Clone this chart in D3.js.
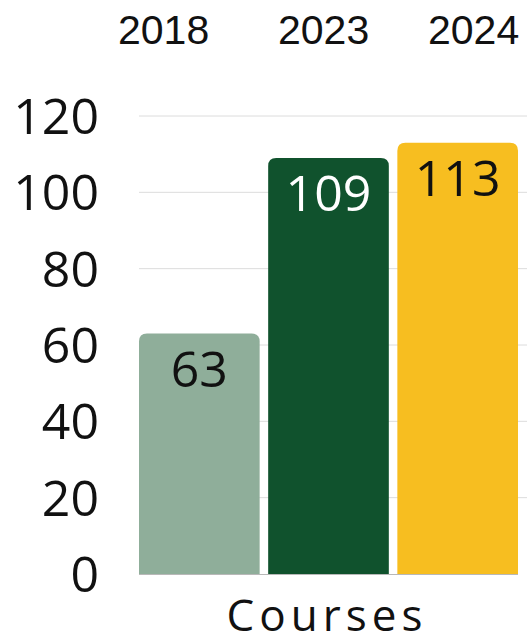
<!DOCTYPE html>
<html>
<head>
<meta charset="utf-8">
<script src="https://cdn.jsdelivr.net/npm/d3@7"></script>
<style>
  body { margin: 0; background: #fff; }
  svg { display: block; font-family: "Open Sans", sans-serif; }
</style>
</head>
<body>
<svg id="chart" width="529" height="644"></svg>
<script>
const YEARS = ["2018", "2023", "2024"];
const VALUES = [63, 109, 113];
const COLORS = ["#8fae9a", "#10522d", "#f7be20"];
const LABEL_COLORS = ["#111", "#fff", "#111"];
const Y_TICKS = [0, 20, 40, 60, 80, 100, 120];
const CATEGORY = "Courses";

const PLOT = { left: 139, right: 518, gridRight: 527, top: 116, bottom: 574 };
const RADIUS = 8;

const svg = d3.select("#chart");

const y = d3.scaleLinear().domain([0, 120]).range([PLOT.bottom, PLOT.top]);
const x = d3.scaleBand().domain(YEARS).range([PLOT.left, PLOT.right]).paddingInner(0.066);

// gridlines
svg.append("g")
  .selectAll("line")
  .data(Y_TICKS.filter((d) => d > 0))
  .join("line")
  .attr("x1", PLOT.left)
  .attr("x2", PLOT.gridRight)
  .attr("y1", (d) => y(d))
  .attr("y2", (d) => y(d))
  .attr("stroke", "#dcdcdc")
  .attr("stroke-width", 1);

// y tick labels
svg.append("g")
  .selectAll("text")
  .data(Y_TICKS)
  .join("text")
  .attr("x", 99)
  .attr("y", (d) => y(d))
  .attr("dy", "0.36em")
  .attr("text-anchor", "end")
  .style("font-size", "50px")
  .style("fill", "#111")
  .text((d) => d);

// bars with rounded tops
const barPath = (x0, y0, w, h, r) =>
  `M${x0},${y0 + h}V${y0 + r}Q${x0},${y0} ${x0 + r},${y0}H${x0 + w - r}Q${x0 + w},${y0} ${x0 + w},${y0 + r}V${y0 + h}Z`;

const bars = YEARS.map((yr, i) => ({ year: yr, value: VALUES[i], color: COLORS[i], label: LABEL_COLORS[i] }));

svg.append("g")
  .selectAll("path")
  .data(bars)
  .join("path")
  .attr("d", (d) => barPath(x(d.year), y(d.value), x.bandwidth(), y(0) - y(d.value), RADIUS))
  .attr("fill", (d) => d.color);

// baseline
svg.append("line")
  .attr("x1", PLOT.left)
  .attr("x2", PLOT.right)
  .attr("y1", y(0) + 0.5)
  .attr("y2", y(0) + 0.5)
  .attr("stroke", "#b8b8b8");

// value labels
svg.append("g")
  .selectAll("text")
  .data(bars)
  .join("text")
  .attr("x", (d) => x(d.year) + x.bandwidth() / 2)
  .attr("y", (d) => y(d.value) + 53)
  .attr("text-anchor", "middle")
  .style("font-size", "50px")
  .style("fill", (d) => d.label)
  .text((d) => d.value);

// legend (text only)
const LEGEND_X = [118, 278, 428];
svg.append("g")
  .selectAll("text")
  .data(YEARS)
  .join("text")
  .attr("x", (d, i) => LEGEND_X[i])
  .attr("y", 44)
  .style("font-family", "'Liberation Sans', Arial, sans-serif")
  .style("font-size", "41px")
  .style("fill", "#111")
  .text((d) => d);

// category label
svg.append("text")
  .attr("x", 327)
  .attr("y", 631)
  .attr("text-anchor", "middle")
  .style("font-size", "44px")
  .style("letter-spacing", "5px")
  .style("fill", "#111")
  .text(CATEGORY);
</script>
</body>
</html>
